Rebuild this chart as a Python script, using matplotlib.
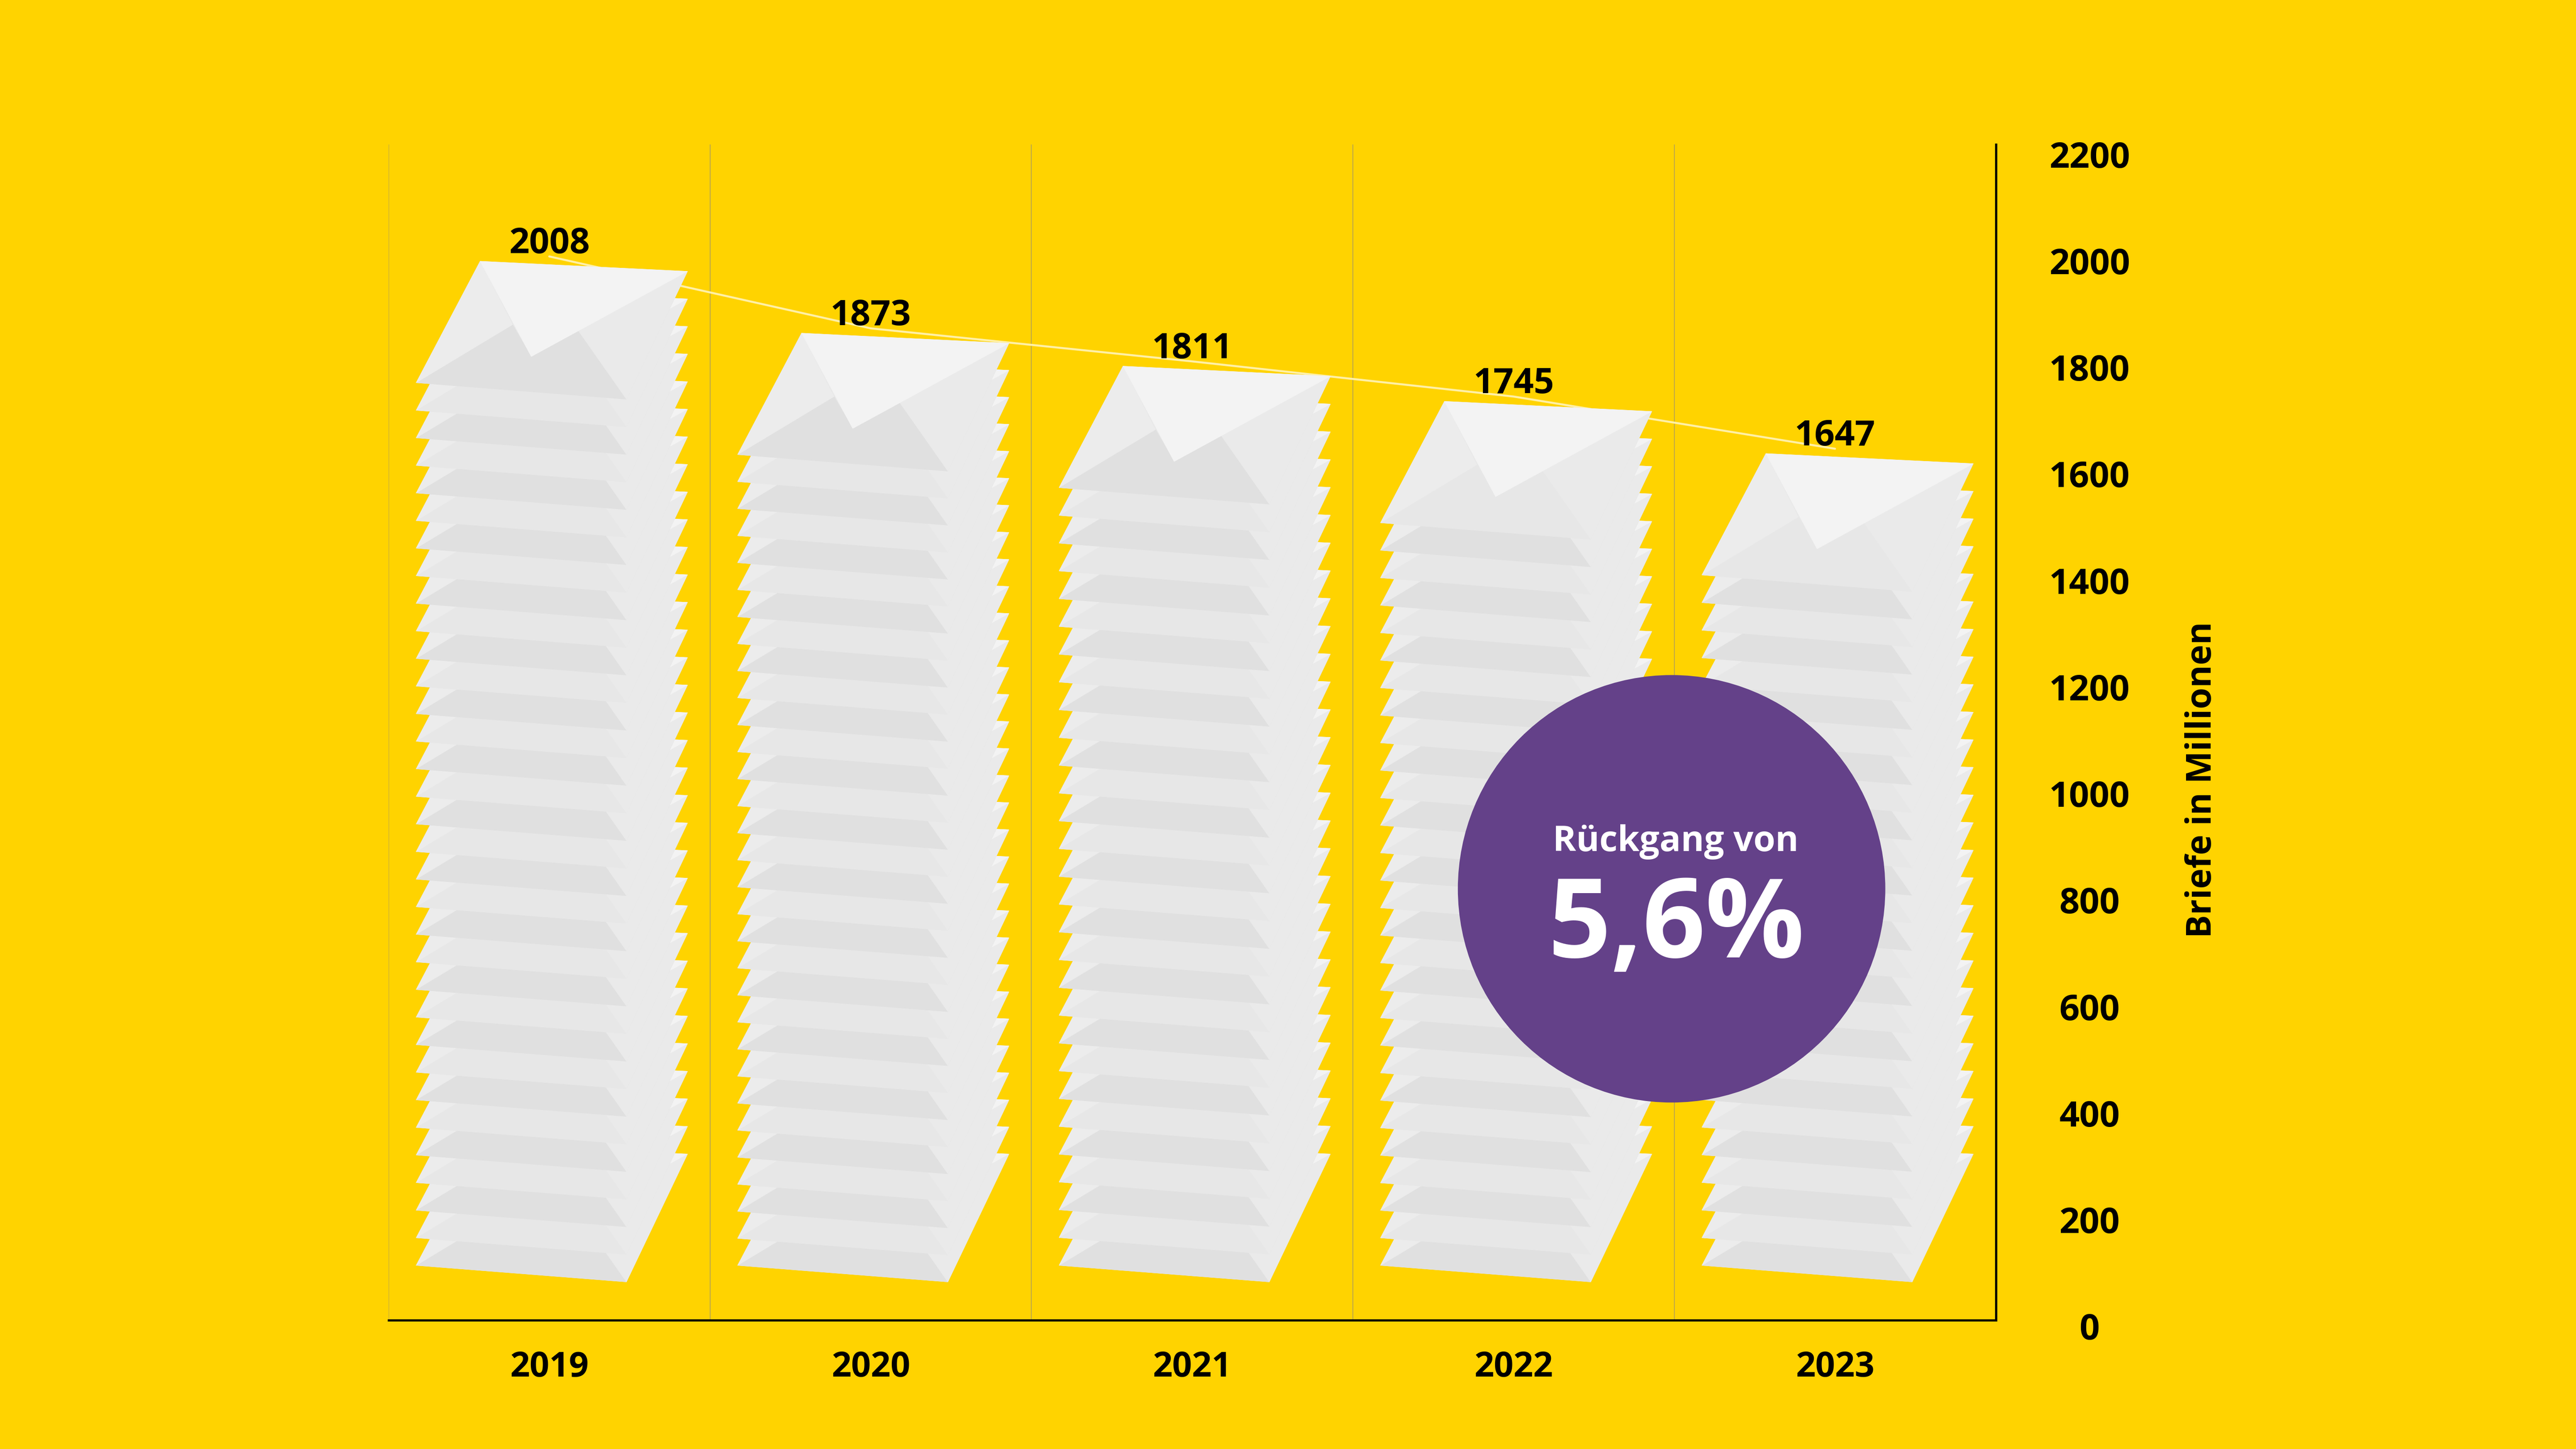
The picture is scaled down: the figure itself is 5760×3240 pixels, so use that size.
import numpy as np
import matplotlib

matplotlib.use("Agg")
import matplotlib.pyplot as plt
from matplotlib.patches import Polygon, Circle


YEARS = ["2019", "2020", "2021", "2022", "2023"]
LETTERS = [2008, 1873, 1811, 1745, 1647]  # Briefe in Millionen
Y_TICKS = [0, 200, 400, 600, 800, 1000, 1200, 1400, 1600, 1800, 2000, 2200]
Y_LABEL = "Briefe in Millionen"
BADGE_TITLE = "Rückgang von"
BADGE_VALUE = "5,6%"

YELLOW = "#FFD300"
PURPLE = "#644189"
LINE_COLOUR = "#FFF0A6"
SEP_COLOUR = "#BFA848"

plt.rcParams["font.family"] = ["Open Sans", "DejaVu Sans"]
plt.rcParams["font.weight"] = "bold"

Y_TOP = 2218
SPINE_Y = 11

# one envelope, relative to its lower-left corner (x in bar widths, y in millions)
ENV = {
    "BL": (0.0, 0.0),
    "BR": (0.654, -31),
    "TR": (0.844, 209),
    "TL": (0.199, 228),
    "V": (0.358, 49),
    "P1": (0.300, 109),
    "P2": (0.504, 98),
}
ENV_LEFT = -0.414
STACK_FLOOR = 114
LAYER = 51.5
TOP_DROP = 237


def envelope(ax, x0, y0, dark, z):
    pt = {k: (x0 + dx, y0 + dy) for k, (dx, dy) in ENV.items()}
    parts = [
        (["BL", "BR", "TR", "TL"], "#E8E8E8"),
        (["BL", "P1", "V", "P2", "BR"], "#E0E0E0" if dark else "#E7E7E7"),
        (["BL", "TL", "P1"], "#ECECEC"),
        (["BR", "TR", "P2"], "#EAEAEA"),
        (["TL", "TR", "V"], "#F3F3F3"),
    ]
    for keys, colour in parts:
        ax.add_patch(Polygon([pt[k] for k in keys], closed=True, facecolor=colour,
                             edgecolor=colour, linewidth=0.2, zorder=z))


fig = plt.figure(figsize=(19.2, 10.8), dpi=300, facecolor=YELLOW)
ax = fig.add_axes([236.5 / 1568, 74.8 / 882, 978.3 / 1568, 719.2 / 882])
ax.set_facecolor("none")
ax.set_xlim(-0.5, 4.5)
ax.set_ylim(0, Y_TOP)

# column separators
ax.vlines(np.arange(len(YEARS)) - 0.5, SPINE_Y, Y_TOP, color=SEP_COLOUR, linewidth=0.5, zorder=1)

# connecting line behind the stacks
ax.plot(range(len(YEARS)), LETTERS, color=LINE_COLOUR, linewidth=1.1, zorder=2,
        solid_capstyle="round")

for i, value in enumerate(LETTERS):
    top = value - TOP_DROP
    n = int(round((top - STACK_FLOOR) / LAYER)) + 1
    for k, y0 in enumerate(np.linspace(STACK_FLOOR, top, n)):
        envelope(ax, i + ENV_LEFT, y0, dark=(k % 2 == 0), z=3 + k * 0.01)
    ax.annotate(str(value), (i, value), xytext=(0, 1.8), textcoords="offset points",
                ha="center", va="baseline", fontsize=19, zorder=6)

for side in ("top", "left"):
    ax.spines[side].set_visible(False)
ax.spines["bottom"].set_position(("data", SPINE_Y))
ax.spines["right"].set_bounds(SPINE_Y, Y_TOP)
for side in ("bottom", "right"):
    ax.spines[side].set_linewidth(1.2)
    ax.spines[side].set_color("black")
    ax.spines[side].set_zorder(7)

ax.set_xticks(range(len(YEARS)), YEARS)
ax.tick_params(axis="x", length=0, pad=16, labelsize=18.5)
ax.yaxis.tick_right()
ax.set_yticks(Y_TICKS)
ax.tick_params(axis="y", length=0, pad=50.3, labelsize=19)
for label in ax.get_yticklabels():
    label.set_horizontalalignment("center")

ax.set_ylabel(Y_LABEL, fontsize=18.5, fontweight="bold")
ax.yaxis.set_label_position("right")
ax.yaxis.set_label_coords(1.1285, 0.4625)
ax.yaxis.label.set_verticalalignment("center")

# badge
fig.add_artist(Circle((12.459, 4.1755), 1.593, transform=fig.dpi_scale_trans,
                      facecolor=PURPLE, edgecolor="none", zorder=10))
fig.text(12.488, 4.457, BADGE_TITLE, transform=fig.dpi_scale_trans, ha="center",
         va="baseline", color="white", fontsize=19, fontweight="bold", zorder=11)
fig.text(12.497, 3.6625, BADGE_VALUE, transform=fig.dpi_scale_trans, ha="center",
         va="baseline", color="white", fontsize=59, fontweight="bold", zorder=11)

fig.savefig("out.png", dpi=300, facecolor=YELLOW)
